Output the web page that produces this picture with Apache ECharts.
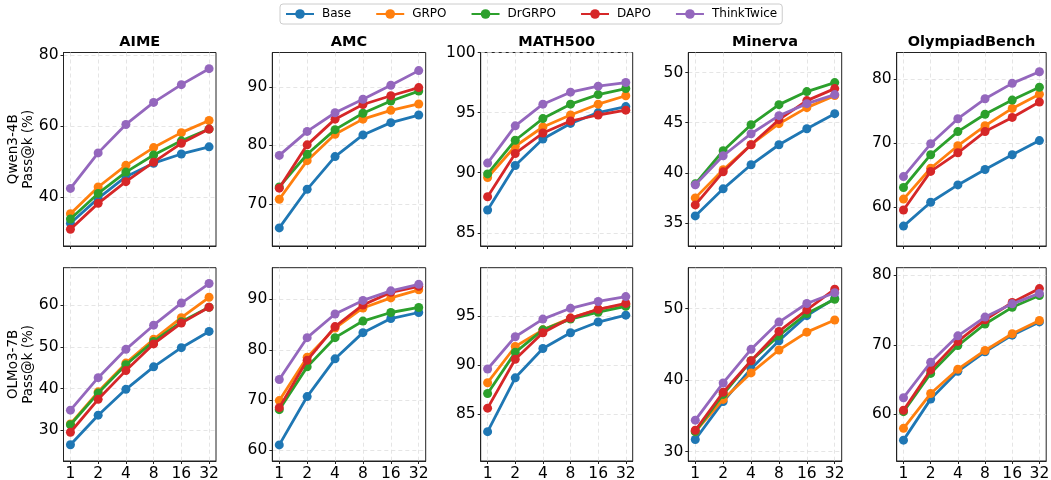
<!DOCTYPE html>
<html>
<head>
<meta charset="utf-8">
<script src="https://cdn.jsdelivr.net/npm/echarts@6/dist/echarts.min.js"></script>
<style>
html,body{margin:0;padding:0;background:#fff;}
#chart{width:1051px;height:480px;}
</style>
</head>
<body>
<div id="chart"></div>
<script>
const kLabels = ['1','2','4','8','16','32'];
const methods = ['Base','GRPO','DrGRPO','DAPO','ThinkTwice'];
const benchmarks = ['AIME','AMC','MATH500','Minerva','OlympiadBench'];
const modelNames = ['Qwen3-4B','OLMo3-7B'];

// each array: [Base, GRPO, DrGRPO, DAPO, ThinkTwice], values for k = 1,2,4,8,16,32
const qwenAIME = [
 [32.7,39.7,45.8,49.6,52.2,54.2],
 [35.4,42.9,49.0,54.0,58.2,61.6],
 [33.9,41.1,47.1,51.9,55.9,59.2],
 [31.0,38.3,44.4,49.9,55.2,59.2],
 [42.5,52.5,60.5,66.7,71.7,76.2]];
const qwenAMC = [
 [65.9,72.5,78.1,81.8,83.9,85.2],
 [70.8,77.4,81.9,84.5,86.0,87.1],
 [72.9,78.5,82.7,85.5,87.6,89.3],
 [72.7,80.1,84.5,87.0,88.5,89.9],
 [78.3,82.4,85.6,87.9,90.3,92.8]];
const qwenMATH500 = [
 [86.9,90.6,92.8,94.1,95.0,95.5],
 [89.6,92.2,93.8,94.8,95.7,96.4],
 [89.9,92.7,94.5,95.7,96.5,97.0],
 [88.0,91.6,93.3,94.3,94.8,95.2],
 [90.8,93.9,95.7,96.7,97.2,97.5]];
const qwenMinerva = [
 [35.7,38.4,40.8,42.8,44.4,45.9],
 [37.5,40.3,42.8,44.9,46.5,47.7],
 [38.9,42.2,44.8,46.8,48.1,49.0],
 [36.8,40.1,42.8,45.3,47.2,48.4],
 [38.8,41.7,43.9,45.7,46.9,47.8]];
const qwenOlympiad = [
 [57.1,60.8,63.5,65.9,68.2,70.4],
 [61.3,66.1,69.6,72.7,75.4,77.6],
 [63.1,68.2,71.8,74.5,76.7,78.7],
 [59.6,65.6,68.5,71.8,74.0,76.4],
 [64.8,69.9,73.8,76.9,79.3,81.1]];

const olmoAIME = [
 [26.5,33.6,39.8,45.2,49.8,53.7],
 [31.5,39.2,46.1,51.8,57.0,61.9],
 [31.3,38.9,45.7,51.3,56.0,59.5],
 [29.5,37.4,44.3,50.7,55.7,59.5],
 [34.8,42.6,49.4,55.2,60.5,65.2]];
const olmoAMC = [
 [61.1,70.7,78.2,83.4,86.2,87.4],
 [69.9,78.5,84.3,88.3,90.3,91.9],
 [68.1,76.6,82.4,85.7,87.4,88.4],
 [68.5,77.9,84.6,88.9,91.4,92.6],
 [74.1,82.4,87.1,89.8,91.7,93.0]];
const olmoMATH500 = [
 [83.2,88.7,91.7,93.3,94.4,95.1],
 [88.2,91.9,93.6,94.8,95.7,96.2],
 [87.1,91.3,93.6,94.7,95.4,96.0],
 [85.6,90.6,93.3,94.8,95.7,96.3],
 [89.6,92.9,94.7,95.8,96.5,97.0]];
const olmoMinerva = [
 [31.7,37.0,41.6,45.5,49.0,51.4],
 [32.8,37.3,41.0,44.2,46.7,48.4],
 [32.8,38.0,42.7,46.2,49.3,51.3],
 [33.0,38.3,42.7,46.8,49.8,52.7],
 [34.4,39.6,44.3,48.1,50.7,52.2]];
const olmoOlympiad = [
 [56.3,62.2,66.2,69.0,71.4,73.3],
 [58.0,63.0,66.5,69.2,71.6,73.5],
 [60.4,65.9,69.9,73.0,75.4,77.1],
 [60.6,66.4,70.5,73.6,76.1,78.1],
 [62.4,67.5,71.3,74.0,75.9,77.4]];

const yTicksQwen = [[40,60,80],[70,80,90],[85,90,95,100],[35,40,45,50],[60,70,80]];
const yTicksOlmo = [[30,40,50,60],[60,70,80,90],[85,90,95],[30,40,50],[60,70,80]];

const panels = [qwenAIME, qwenAMC, qwenMATH500, qwenMinerva, qwenOlympiad,
                olmoAIME, olmoAMC, olmoMATH500, olmoMinerva, olmoOlympiad];
const yTicks = yTicksQwen.concat(yTicksOlmo);

// layout / scale settings
const colors = ['#1f77b4','#ff7f0e','#2ca02c','#d62728','#9467bd'];
const colLeft = [63.5, 272.3, 480.7, 688.3, 896.7];
const colWidth = [152.5, 153.4, 152, 153.4, 149.5];
const rowTop = [52.5, 267.7];
const rowHeight = [193.5, 193.3];
const yLim = [[26.3,80.75],[62.8,95.9],[83.9,100],[32.7,52],[54,84.1],
              [22.6,69],[57.9,96.3],[80.2,99.95],[28.7,55.7],[53.3,81.1]];
const FONT = 'DejaVu Sans';
const xIdx = kLabels.map((_, i) => i);

const grids = [], xAxes = [], yAxes = [], series = [], titles = [], graphics = [];
for (let p = 0; p < 10; p++) {
  const r = Math.floor(p / 5), c = p % 5;
  grids.push({left: colLeft[c], top: rowTop[r], width: colWidth[c], height: rowHeight[r],
    show: true, borderColor: '#222', borderWidth: 1, containLabel: false, outerBoundsMode: 'none'});
  xAxes.push({type: 'value', gridIndex: p, min: -0.25, max: 5.25,
    axisLine: {show: true, onZero: false, lineStyle: {color: '#222', width: 1}},
    axisTick: {show: true, length: 3, customValues: xIdx, lineStyle: {color: '#222'}},
    axisLabel: {show: r === 1, customValues: xIdx, margin: 5, fontFamily: FONT, fontSize: 15.5, color: '#000',
      formatter: v => kLabels[Math.round(v)]},
    splitLine: {show: true, lineStyle: {color: '#dedede', type: [4, 3], width: 0.8}}});
  yAxes.push({type: 'value', gridIndex: p, min: yLim[p][0], max: yLim[p][1],
    axisLine: {show: true, onZero: false, lineStyle: {color: '#222', width: 1}},
    axisTick: {show: true, length: 3, customValues: yTicks[p], lineStyle: {color: '#222'}},
    axisLabel: {show: true, customValues: yTicks[p], margin: 5, fontFamily: FONT, fontSize: 15.5, color: '#000'},
    splitLine: {show: true, lineStyle: {color: '#dedede', type: [4, 3], width: 0.8}}});
  for (let m = 0; m < 5; m++) {
    series.push({type: 'line', name: methods[m], xAxisIndex: p, yAxisIndex: p,
      data: panels[p][m].map((v, i) => [xIdx[i], v]),
      symbol: 'circle', symbolSize: 9, showSymbol: true,
      lineStyle: {color: colors[m], width: 2.8},
      itemStyle: {color: colors[m]},
      emphasis: {disabled: true}, animation: false, z: 2 + m});
  }
  if (r === 0) {
    titles.push({text: benchmarks[c], left: colLeft[c] + colWidth[c] / 2, top: 35, textAlign: 'center',
      padding: 0, textStyle: {fontFamily: FONT, fontSize: 14.5, fontWeight: 'bold', color: '#000'}});
  }
}
for (let r = 0; r < 2; r++) {
  graphics.push({type: 'text', x: 21, y: rowTop[r] + rowHeight[r] / 2, rotation: Math.PI / 2,
    style: {text: modelNames[r] + '\nPass@k (%)', fontFamily: FONT, fontSize: 13.5, lineHeight: 15,
      fill: '#000', align: 'center', verticalAlign: 'middle'}});
}

const chart = echarts.init(document.getElementById('chart'), null, {renderer: 'canvas'});
chart.setOption({
  animation: false,
  backgroundColor: '#fff',
  title: titles,
  legend: {data: methods, left: 280, top: 4, padding: [4, 5], itemGap: 24, itemWidth: 28, itemHeight: 12,
    borderColor: '#cccccc', borderWidth: 1, borderRadius: 3,
    textStyle: {fontFamily: FONT, fontSize: 12, color: '#000', padding: [0, 0, 0, 3]}},
  grid: grids, xAxis: xAxes, yAxis: yAxes, series: series, graphic: graphics
});
</script>
</body>
</html>
